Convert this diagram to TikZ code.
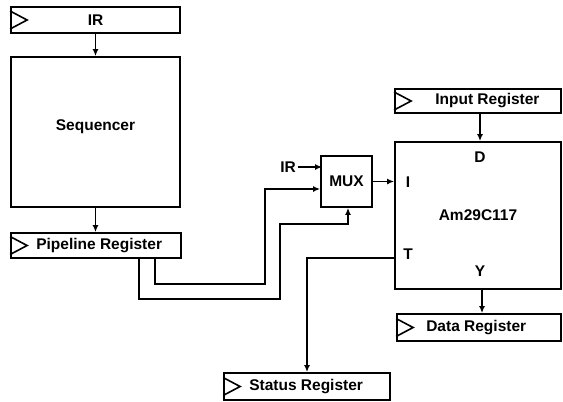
\documentclass[tikz,border=0pt]{standalone}
\usepackage{fontspec}
\setmainfont{Liberation Sans}
\usetikzlibrary{arrows.meta}
\newcommand{\lbl}{\fontsize{15.5}{18}\selectfont\bfseries}
\begin{document}
\begin{tikzpicture}[x=1pt,y=-1pt,
  blk/.style={draw,line width=1.8pt,inner sep=0,font=\lbl},
  regtxt/.style={anchor=west,inner sep=0,font=\lbl},
  pin/.style={inner sep=0,font=\lbl},
  sig/.style={line width=1.6pt,-{Latex[length=7pt,width=6pt]}}]
\useasboundingbox (0,0) rectangle (563,402);
% registers and blocks
\node[blk,minimum width=169,minimum height=26] (ir) at (95.5,20) {IR};
\node[blk,minimum width=169,minimum height=150,text depth=14pt] (seq) at (95.5,132) {Sequencer};
\node[blk,minimum width=170,minimum height=25] (pipe) at (96,245.5) {};
\node[blk,minimum width=51,minimum height=51] (mux) at (346.5,181.5) {MUX};
\node[blk,minimum width=166,minimum height=147] (am) at (478,215.5) {Am29C117};
\node[blk,minimum width=166,minimum height=24] (inreg) at (478,101) {};
\node[blk,minimum width=164,minimum height=27] (datareg) at (479,327.5) {};
\node[blk,minimum width=166,minimum height=27] (statreg) at (307,386.5) {};
\node[regtxt] (pipetxt) at ([xshift=26pt]pipe.west) {Pipeline Register};
\node[regtxt] (intxt) at ([xshift=41pt]inreg.west) {Input Register};
\node[regtxt] (datatxt) at ([xshift=30pt]datareg.west) {Data Register};
\node[regtxt] (stattxt) at ([xshift=26pt]statreg.west) {Status Register};
% clock marks
\foreach \n in {ir,pipe,inreg,datareg,statreg}
  \draw[line width=1.6pt] ([yshift=9pt]\n.west) -- ([xshift=17pt]\n.west) -- ([yshift=-9pt]\n.west);
% pins of the Am29C117
\node[pin] (pind) at (480,157) {D};
\node[pin] (pini) at (408,182) {I};
\node[pin] (pint) at (408,254) {T};
\node[pin] (piny) at (480,271) {Y};
\node[pin,anchor=east] (irin) at (296,167) {IR};
% connections
\draw[sig] (ir) -- (seq);
\draw[sig] (seq.south) -- (seq.south |- pipe.north);
\draw[sig] ([xshift=2pt]irin.east) -- ([xshift=2pt]irin.east -| mux.west);
\draw[sig] ([xshift=59pt]pipe.south) -- ++(0,25) -- ++(110,0) |- ([yshift=-7.5pt]mux.west);
\draw[sig] ([xshift=43pt]pipe.south) -- ++(0,40) -- ++(141,0) -- ++(0,-75) -| ([xshift=1.5pt]mux.south);
\draw[sig] (mux.east) -- (mux.east -| am.west);
\draw[sig] ([xshift=2pt]inreg.south) -- ([xshift=2pt]am.north);
\draw[sig] ([xshift=4pt]am.south) -- ([xshift=4pt]am.south |- datareg.north);
\draw[sig] ([yshift=-42.5pt]am.west) -| (statreg.north);
\end{tikzpicture}
\end{document}
